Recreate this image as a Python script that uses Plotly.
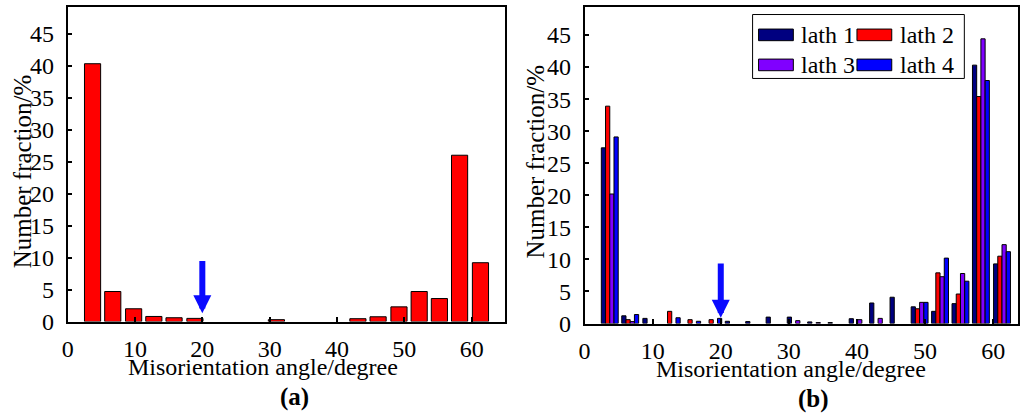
import plotly.graph_objects as go

# Bin centres of the misorientation-angle histogram (degrees)
angle_centers = [3.7, 6.7, 9.8, 12.8, 15.8, 18.9, 21.9, 24.9, 27.9, 31.0,
                 34.0, 37.0, 40.1, 43.1, 46.1, 49.2, 52.2, 55.2, 58.2, 61.3]

# (a) overall number fraction, %
fraction_all = [40.3, 4.7, 2.0, 0.8, 0.6, 0.5, 0, 0, 0, 0.3,
                0, 0, 0, 0.45, 0.75, 2.3, 4.7, 3.6, 26.0, 9.2]

# (b) number fraction per lath, %
lath_names = ["lath 1", "lath 2", "lath 3", "lath 4"]
lath1 = [27.4, 1.2, 0.8, 0, 0, 0, 0.35, 0.3, 1.0, 1.0,
         0.25, 0.15, 0.75, 3.2, 4.1, 2.6, 1.9, 3.1, 40.3, 9.3]
lath2 = [33.9, 0.6, 0, 1.9, 0.6, 0.6, 0, 0, 0, 0,
         0, 0, 0, 0, 0, 2.3, 7.9, 4.6, 35.4, 10.5]
lath3 = [20.2, 0.3, 0, 0, 0, 0, 0, 0, 0, 0.45,
         0.15, 0, 0.6, 0.8, 0, 3.3, 7.3, 7.8, 44.4, 12.3]
lath4 = [29.1, 1.4, 0, 0.9, 0.35, 0.8, 0, 0, 0, 0,
         0, 0, 0, 0, 0, 3.3, 10.2, 6.6, 37.9, 11.2]
lath_values = [lath1, lath2, lath3, lath4]
lath_colors = ["#000080", "#FF0000", "#8000FF", "#0000FF"]

x_ticks = [0, 10, 20, 30, 40, 50, 60]
y_ticks = [0, 5, 10, 15, 20, 25, 30, 35, 40, 45]
arrow_angle = 20

FONT = "'Liberation Serif', 'Times New Roman', serif"
W, H = 1020, 414


def nonzero(vals):
    # empty bins are left out so no outline is drawn along the axis
    return [v if v > 0 else None for v in vals]


fig = go.Figure()

fig.add_trace(go.Bar(
    x=angle_centers, y=nonzero(fraction_all), width=2.4,
    marker=dict(color="#FF0000", line=dict(color="#000000", width=1)),
    xaxis="x", yaxis="y", showlegend=False,
))

bar_w = 0.62
for i, (name, vals, col) in enumerate(zip(lath_names, lath_values, lath_colors)):
    fig.add_trace(go.Bar(
        x=angle_centers, y=nonzero(vals), name=name,
        width=bar_w, offset=-2 * bar_w + i * bar_w,
        marker=dict(color=col, line=dict(color="#000000", width=1)),
        xaxis="x2", yaxis="y2", showlegend=False,
    ))


def px_x(p):
    return p / W


def px_y(p):
    return 1 - p / H


axis_common = dict(
    showline=True, linecolor="#000000", linewidth=1.5, mirror=True,
    ticks="inside", ticklen=5, tickwidth=1.5, tickcolor="#000000",
    showgrid=False, zeroline=False,
    tickfont=dict(family=FONT, size=24, color="#000000"),
)

fig.update_layout(
    width=W, height=H,
    margin=dict(l=0, r=0, t=0, b=0),
    paper_bgcolor="#FFFFFF", plot_bgcolor="#FFFFFF",
    barmode="overlay",
    xaxis=dict(domain=[px_x(62), px_x(502)], range=[0, 64.95],
               tickvals=x_ticks, anchor="y", ticklabelstandoff=5, **axis_common),
    yaxis=dict(domain=[px_y(332), px_y(7)], range=[0, 49.2],
               tickvals=y_ticks, anchor="x", ticklabelstandoff=7, **axis_common),
    xaxis2=dict(domain=[px_x(582), px_x(1018)], range=[0, 63.65],
                tickvals=x_ticks, anchor="y2", ticklabelstandoff=5, **axis_common),
    yaxis2=dict(domain=[px_y(334), px_y(7)], range=[0, 49.4],
                tickvals=y_ticks, anchor="x2", ticklabelstandoff=7, **axis_common),
    font=dict(family=FONT, color="#000000"),
)

annotations = []
# axis titles and panel labels
for cx, cy, ycx, ycy, lab, lcx, lcy in [
    (259, 379, 17, 177, "(a)", 290, 410),
    (790, 381, 533, 167, "(b)", 812, 412),
]:
    annotations.append(dict(text="Misorientation angle/degree", xref="paper", yref="paper",
                            x=px_x(cx), y=px_y(cy), xanchor="center", yanchor="middle",
                            showarrow=False, font=dict(family=FONT, size=24)))
    annotations.append(dict(text="Number fraction/%", xref="paper", yref="paper",
                            x=px_x(ycx), y=px_y(ycy), xanchor="center", yanchor="middle",
                            textangle=-90, showarrow=False, font=dict(family=FONT, size=25)))
    annotations.append(dict(text="<b>" + lab + "</b>", xref="paper", yref="paper",
                            x=px_x(lcx), y=px_y(lcy), xanchor="center", yanchor="middle",
                            showarrow=False, font=dict(family=FONT, size=25)))

# blue arrows marking 20 degrees
for xr, yr, tip, tail in [("x", "y", 1.3, 9.7), ("x2", "y2", 0.9, 9.6)]:
    annotations.append(dict(x=arrow_angle, y=tip, ax=arrow_angle, ay=tail,
                            xref=xr, yref=yr, axref=xr, ayref=yr, text="",
                            showarrow=True, arrowhead=2, arrowsize=0.6,
                            arrowwidth=6, arrowcolor="#0A0AFF"))

# legend for panel (b)
shapes = [dict(type="rect", xref="paper", yref="paper",
               x0=px_x(751), x1=px_x(964), y0=px_y(81), y1=px_y(15),
               line=dict(color="#000000", width=1), fillcolor="#FFFFFF", layer="above")]
legend_slots = [(757, 36), (856, 36), (757, 67), (856, 67)]
for (sx, sy), name, col in zip(legend_slots, lath_names, lath_colors):
    shapes.append(dict(type="rect", xref="paper", yref="paper",
                       x0=px_x(sx), x1=px_x(sx + 35), y0=px_y(sy + 6), y1=px_y(sy - 6),
                       line=dict(color="#000000", width=1), fillcolor=col, layer="above"))
    annotations.append(dict(text=name, xref="paper", yref="paper",
                            x=px_x(sx + 41), y=px_y(sy), xanchor="left", yanchor="middle",
                            showarrow=False, font=dict(family=FONT, size=24)))

fig.update_layout(annotations=annotations, shapes=shapes)

fig.write_html("out.html")
